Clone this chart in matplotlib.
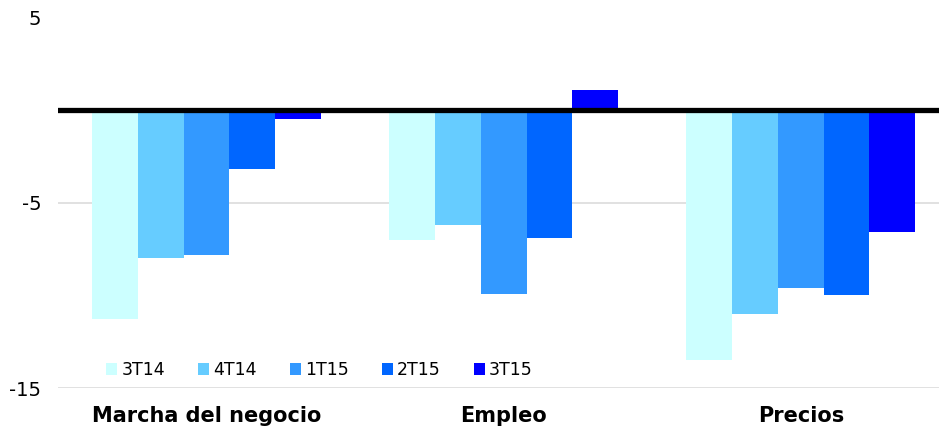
import matplotlib
matplotlib.use("Agg")
import matplotlib.pyplot as plt
import numpy as np

# Datos
categorias = ["Marcha del negocio", "Empleo", "Precios"]
periodos = ["3T14", "4T14", "1T15", "2T15", "3T15"]
valores_3T14 = [-11.3, -7.0, -13.5]
valores_4T14 = [-8.0, -6.2, -11.0]
valores_1T15 = [-7.8, -9.9, -9.6]
valores_2T15 = [-3.2, -6.9, -10.0]
valores_3T15 = [-0.5, 1.1, -6.6]
yticks = [5, -5, -15]

series = [valores_3T14, valores_4T14, valores_1T15, valores_2T15, valores_3T15]
colores = ["#CCFFFF", "#66CCFF", "#3399FF", "#0066FF", "#0000FF"]

fig = plt.figure(figsize=(9.39, 4.28), dpi=100)
ax = fig.add_axes([58 / 939, 1 - 388 / 428, 1 - 58 / 939, (388 - 17.5) / 428])

x = np.arange(len(categorias))
ancho = 0.154
for i, (vals, color, nombre) in enumerate(zip(series, colores, periodos)):
    ax.bar(x + (i - 2) * ancho, vals, width=ancho, color=color, label=nombre,
           edgecolor="none", zorder=2)

# Linea de cero
ax.axhline(0, color="black", linewidth=3.8, zorder=3)

ax.set_ylim(-15, 5)
ax.set_xlim(-0.5, 2.465)
ax.set_yticks(yticks)
ax.set_yticklabels([str(v) for v in yticks], fontsize=14)
ax.yaxis.grid(True, color="#dedede", linewidth=1.3, zorder=0)
ax.set_axisbelow(True)
ax.set_xticks(x)
ax.set_xticklabels(categorias, fontsize=15, fontweight="bold")
ax.tick_params(axis="y", length=0, pad=12)
ax.tick_params(axis="x", length=0, pad=13)
for s in ax.spines.values():
    s.set_visible(False)

ax.legend(loc="center left", bbox_to_anchor=(106 / 939, 1 - 370 / 428),
          bbox_transform=fig.transFigure, ncol=5, frameon=False,
          fontsize=12.5, handlelength=0.63, handleheight=0.63,
          handletextpad=0.25, columnspacing=1.9, borderpad=0, borderaxespad=0)

plt.savefig("out.png", dpi=100)
